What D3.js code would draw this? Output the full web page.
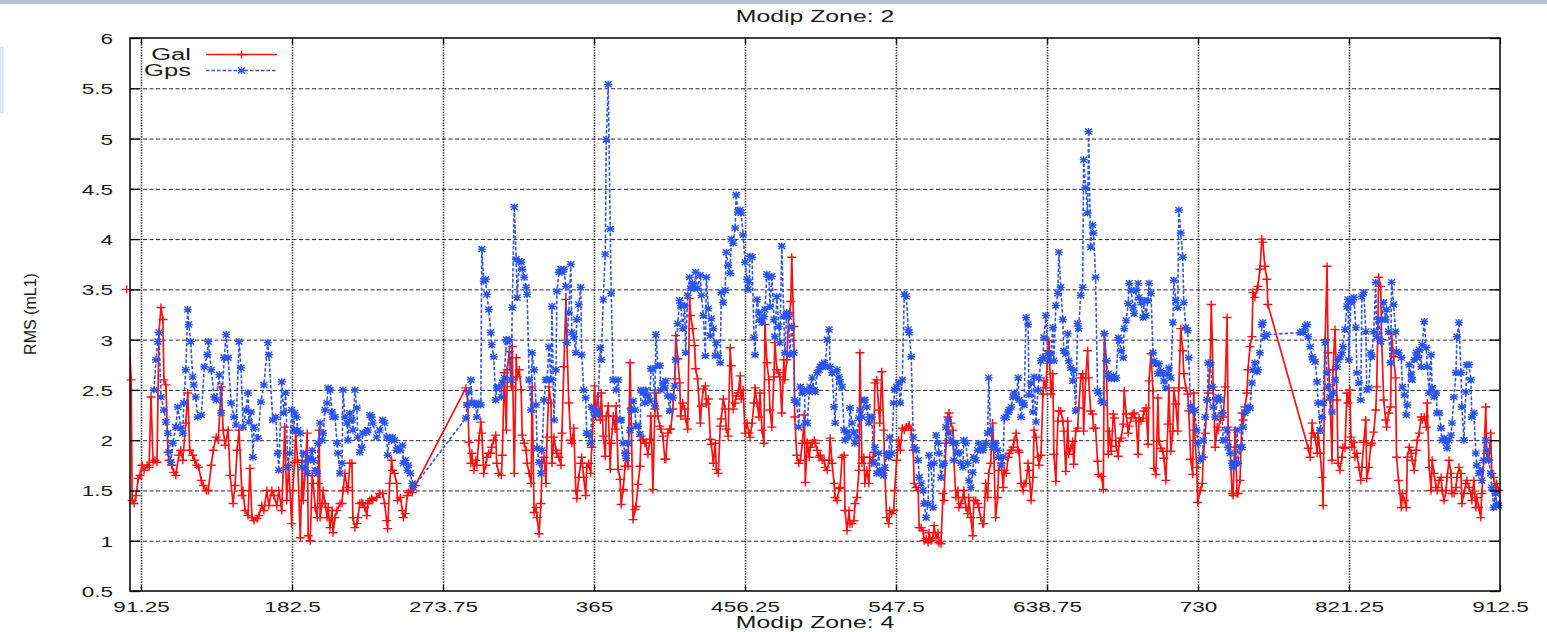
<!DOCTYPE html>
<html><head><meta charset="utf-8">
<script src="https://cdn.jsdelivr.net/npm/d3@7"></script>
<style>
body{margin:0;background:#fff;}
svg{display:block;font-family:"Liberation Sans",Arial,Helvetica,sans-serif;}
</style></head><body>
<svg id="chart" width="1547" height="632"></svg>
<script>
const chartTitle = "Modip Zone: 2";
const xAxisTitle = "Modip Zone: 4";
const yAxisTitle = "RMS (mL1)";
const seriesNames = ["Gal", "Gps"];
const xTickValues = [91.25,182.5,273.75,365,456.25,547.5,638.75,730,821.25,912.5];
const xTickLabels = ["91.25","182.5","273.75","365","456.25","547.5","638.75","730","821.25","912.5"];
const yTickValues = [0.5,1,1.5,2,2.5,3,3.5,4,4.5,5,5.5,6];
const yTickLabels = ["0.5","1","1.5","2","2.5","3","3.5","4","4.5","5","5.5","6"];

// [day, RMS]
const galPoints = [[82.6,3.5],[85.3,2.6],[85.9,1.4],[87.1,1.37],[88.3,1.45],[89.5,1.62],[90.7,1.65],[91.9,1.75],[93.1,1.7],[94.9,1.75],[96.1,1.73],[97.3,2.43],[98.5,1.78],[99.7,1.8],[100.9,1.78],[102.1,3.07],[103.3,3.32],[104.5,3.2],[105.1,2.6],[106.3,2.55],[107.5,1.88],[108.1,1.8],[109.9,1.75],[111.1,1.68],[112.3,1.65],[114.1,1.85],[115.3,1.9],[116.5,1.8],[118.3,2.17],[119.5,2.47],[120.7,1.9],[122.5,1.85],[123.7,1.8],[124.9,1.75],[126.1,1.73],[127.7,1.6],[128.9,1.55],[130.7,1.5],[131.9,1.5],[133.7,1.75],[134.9,1.9],[136.7,2.03],[137.9,2.0],[139.7,2.53],[140.9,2.1],[142.1,1.95],[143.9,2.1],[145.1,1.65],[146.9,1.37],[148.1,1.55],[149.3,1.9],[150.5,2.1],[152.3,1.45],[152.9,1.5],[154.1,1.3],[155.9,1.25],[157.1,1.72],[158.3,1.23],[159.5,1.2],[161.3,1.22],[162.5,1.25],[164.3,1.35],[165.5,1.3],[167.3,1.5],[168.5,1.35],[170.3,1.5],[171.5,1.45],[173.3,1.35],[174.5,1.5],
[176.3,1.3],[178.1,2.13],[179.3,1.4],[180.5,1.75],[182.3,1.17],[182.9,1.5],[184.1,1.78],[184.7,2.07],[185.9,1.8],[187.5,1.03],[188.7,1.78],[189.3,1.4],[190.5,1.7],[191.7,2.07],[192.3,1.05],[193.5,1.0],[194.7,1.65],[195.3,1.57],[196.5,1.33],[197.7,1.23],[198.3,1.57],[198.9,2.1],[199.5,1.23],[200.7,1.37],[201.3,1.5],[202.5,1.37],[203.7,1.23],[204.3,1.33],[205.5,1.13],[206.7,1.3],[207.3,1.08],[208.5,1.23],[209.7,1.3],[211.5,1.37],[212.7,1.37],[213.3,1.5],[214.5,1.67],[215.7,1.53],[216.3,1.5],[217.5,1.77],[218.7,1.77],[219.3,1.23],[220.5,1.13],[221.7,1.17],[222.3,1.23],[223.5,1.37],[224.7,1.38],[225.3,1.37],[226.5,1.33],[227.7,1.25],[228.3,1.37],[229.5,1.4],[230.7,1.42],[231.3,1.4],[233.7,1.43],[235.5,1.47],[237.3,1.47],[238.5,1.37],[239.7,1.2],[240.3,1.12],[241.5,1.57],[242.7,1.8],[243.3,1.7],[244.5,1.67],[245.7,1.57],[246.3,1.4],[248.0,1.43],[249.2,1.3],[249.8,1.23],[251.0,1.27],[252.2,1.45],[252.8,1.48],[254.0,1.5],[255.2,1.48],[257.0,1.55],
[287.6,2.52],[288.8,2.37],[289.4,1.98],[290.6,1.77],[291.2,1.87],[292.4,1.7],[293.6,1.8],[294.2,1.75],[295.4,2.0],[296.6,2.18],[297.2,2.07],[298.4,1.67],[299.6,1.75],[300.2,1.83],[301.4,1.87],[302.6,1.87],[303.2,1.93],[304.4,2.0],[305.6,2.05],[306.2,1.77],[307.4,1.67],[309.0,1.65],[309.6,1.85],[310.8,2.67],[312.0,2.1],[312.6,2.7],[313.8,2.88],[315.0,2.53],[315.6,2.93],[316.8,1.67],[318.0,2.82],[318.6,2.63],[319.8,2.7],[321.0,2.5],[321.6,2.05],[322.8,1.97],[324.0,1.9],[324.6,1.77],[325.8,1.67],[327.0,1.57],[327.6,2.53],[328.8,1.28],[330.0,1.33],[330.6,1.23],[331.8,1.07],[333.0,1.37],[333.6,1.77],[334.8,1.83],[336.0,1.57],[336.6,2.03],[337.8,2.53],[339.0,2.37],[339.6,1.77],[340.8,2.03],[342.0,1.9],[342.6,1.87],[343.8,1.83],[345.0,1.75],[345.6,2.07],[346.8,2.73],[348.0,3.4],[348.6,2.97],[349.8,2.37],[351.0,2.0],[351.6,1.97],[352.8,2.12],[354.0,1.5],[354.6,1.42],[355.8,1.63],[357.0,1.77],[357.6,1.83],[358.8,1.63],[360.0,1.45],[360.6,1.73],[361.8,1.77],[363.0,1.67],[363.6,1.93],
[364.8,2.31],[365.4,2.54],[366.0,2.24],[367.2,2.44],[368.8,2.2],[369.4,2.47],[370.6,2.04],[371.8,1.84],[372.4,2.24],[373.6,2.34],[374.8,1.71],[375.4,1.97],[376.6,2.24],[377.8,2.11],[378.4,2.34],[379.6,1.71],[380.8,1.61],[381.4,1.36],[382.6,1.51],[383.8,1.74],[384.4,1.87],[385.6,1.74],[386.8,2.77],[387.4,2.31],[388.6,1.21],[389.8,1.31],[390.4,1.34],[391.6,1.56],[392.8,1.74],[393.4,2.04],[394.6,2.01],[395.8,1.97],[396.4,1.97],[397.6,1.86],[398.8,2.01],[399.4,2.24],[400.6,1.51],[401.8,2.31],[402.4,2.47],[403.6,2.24],[404.8,2.14],[405.4,2.11],[406.6,2.04],[407.8,1.81],[408.4,1.81],[409.6,2.07],[410.8,2.11],[411.4,2.11],[412.6,2.31],[413.8,2.61],[414.4,3.04],[415.6,2.81],[416.8,2.57],[417.4,2.24],[418.6,2.37],[419.8,2.31],[420.4,2.21],[421.6,2.11],[422.8,3.41],[423.4,3.24],[424.6,3.11],[425.8,2.94],[426.4,2.71],[427.6,2.61],[429.3,2.17],[429.9,2.34],[431.1,2.51],[432.3,2.54],[432.9,2.36],[434.1,2.41],[435.3,2.01],[435.9,1.96],[437.1,1.77],[438.3,1.97],[438.9,1.71],[440.1,1.67],[441.3,2.14],[441.9,2.21],[443.1,2.41],[444.3,2.31],[444.9,2.11],[446.1,2.04],[447.3,2.92],[447.9,2.74],[449.1,2.31],[450.3,2.37],[450.9,2.44],[452.1,2.47],[453.3,2.64],[453.9,2.41],
[455.1,2.5],[456.3,2.07],[457.5,2.17],[458.7,2.07],[459.3,2.03],[460.5,2.17],[461.7,2.37],[462.3,2.52],[463.5,2.37],[464.7,2.23],[465.3,2.47],[466.5,2.1],[467.7,1.97],[468.3,3.15],[469.5,2.77],[470.7,2.6],[471.3,2.3],[472.5,2.13],[473.7,2.63],[474.3,2.97],[475.5,2.7],[476.7,2.67],[477.3,2.63],[478.5,2.27],[479.7,2.8],[480.3,2.6],[481.5,2.8],[482.7,3.25],[483.3,3.27],[483.9,3.38],[484.5,3.82],[485.7,3.13],[486.3,2.23],[487.5,1.85],[488.7,1.77],[489.7,1.8],[490.9,1.97],[492.1,2.25],[492.7,1.58],[493.9,1.98],[495.1,1.83],[495.7,1.93],[496.9,1.97],[498.1,2.0],[498.7,1.97],[499.9,1.9],[501.1,1.83],[501.7,1.85],[502.9,1.8],[504.1,1.8],[504.7,1.73],[505.9,1.7],[507.1,1.8],[507.7,2.02],[508.9,1.77],[510.1,1.57],[510.7,1.43],[511.9,1.4],[513.1,1.52],[513.7,1.53],[514.9,1.83],[516.1,1.85],[516.7,1.3],[517.9,1.1],[519.1,1.3],[519.7,1.17],[520.9,1.17],[522.1,1.2],[522.7,1.37],[523.9,1.43],[525.1,1.7],[525.7,2.87],[526.9,1.77],[528.1,1.83],[528.7,1.57],[529.9,1.7],[531.1,1.57],[531.7,1.83],[532.9,1.77],[534.1,1.88],[534.7,2.57],[535.9,2.6],[537.1,2.3],[537.7,2.17],[538.9,2.68],[540.1,2.1],[540.7,1.7],[541.9,1.23],[543.1,1.17],[543.7,1.3],[544.9,1.27],[546.1,1.3],[546.7,1.5],[547.9,1.8],[549.1,2.0],[550.1,1.9],
[551.3,2.12],[552.5,2.1],[553.7,2.13],[554.9,2.13],[555.5,2.15],[556.7,2.1],[557.9,1.9],[558.5,1.57],[559.7,1.53],[560.9,1.5],[561.5,1.13],[562.7,1.13],[563.9,1.1],[564.5,1.0],[565.7,1.02],[566.9,0.98],[567.5,1.08],[568.7,1.0],[569.9,1.03],[570.5,1.15],[571.7,1.03],[572.9,1.08],[573.5,0.98],[574.7,0.97],[575.9,1.47],[576.5,1.4],[577.7,1.97],[578.9,2.23],[579.5,2.27],[580.7,2.17],[581.9,2.1],[582.5,1.8],[583.7,1.43],[584.9,1.5],[585.5,1.33],[586.7,1.37],[587.9,1.43],[588.5,1.5],[589.7,1.33],[590.9,1.27],[591.5,1.43],[592.7,1.23],[593.9,1.05],[594.5,1.4],[595.7,1.4],[596.9,1.37],[597.5,1.33],[598.7,1.23],[599.9,1.17],[600.5,1.17],[601.7,1.57],[602.9,1.43],[603.5,1.67],[604.7,1.77],[605.9,2.17],[606.5,1.93],[607.7,1.23],[608.9,1.43],[609.5,1.7],[611.1,1.77],[612.3,1.53],[612.9,1.7],[614.1,1.67],[615.3,1.83],[615.9,1.87],[617.1,1.9],[618.3,1.93],[618.9,2.0],[620.1,2.07],[621.3,1.9],[621.9,1.88],[623.1,1.57],[624.3,1.5],[624.9,1.57],[626.1,1.57],[627.3,1.77],[627.9,1.7],[629.1,1.4],[630.3,1.63],[630.9,2.1],[632.1,2.03],[633.3,1.83],
[633.9,1.75],[635.1,1.85],[636.3,2.46],[636.9,2.59],[638.1,2.52],[639.3,2.89],[639.9,2.99],[641.1,2.46],[642.3,2.66],[642.9,1.86],[644.1,1.59],[645.3,2.19],[645.9,2.29],[647.1,2.29],[648.3,2.19],[648.9,2.09],[650.1,1.69],[651.3,2.19],[651.9,1.86],[653.1,1.92],[654.3,1.99],[654.9,1.76],[656.1,2.09],[657.3,2.12],[657.9,2.32],[659.1,2.62],[660.3,2.66],[660.9,2.09],[662.1,2.62],[663.3,2.89],[663.9,2.62],[665.1,2.29],[666.3,2.26],[666.9,2.12],[668.1,2.12],[669.3,1.79],[669.9,1.66],[671.6,1.64],[672.8,1.51],[673.4,3.06],[674.6,2.79],[675.8,1.86],[676.4,2.09],[677.6,1.89],[678.8,2.26],[679.4,2.22],[680.6,1.94],[681.8,1.84],[682.4,1.99],[683.6,2.02],[684.8,2.16],[685.4,2.49],[686.6,2.26],[687.8,2.07],[688.4,2.14],[689.6,2.22],[690.8,2.26],[691.4,2.27],[692.6,2.19],[693.8,1.86],[694.4,2.22],[695.6,2.19],[696.8,2.22],[697.4,2.29],[698.6,2.32],[699.8,1.96],[700.4,2.59],[701.6,2.86],[702.8,2.49],[703.4,1.72],[704.6,1.66],[705.8,2.42],[706.4,1.99],[707.6,1.92],[708.8,1.89],[709.4,1.82],[710.6,1.6],[711.8,2.16],[712.4,2.52],[713.6,1.89],[714.8,2.09],[715.4,2.49],[716.6,2.36],[717.8,2.09],[718.4,2.52],[719.6,3.11],[720.8,2.89],[721.4,2.66],[722.6,2.52],[723.8,2.46],[724.4,2.29],[725.6,1.81],[726.8,1.66],
[727.4,2.47],[728.0,2.1],[729.2,1.73],[729.8,1.38],[731.4,1.5],[732.6,1.57],[733.2,1.83],[734.4,2.07],[735.6,2.4],[736.2,2.47],[737.4,2.77],[738.0,3.35],[738.6,3.0],[739.2,2.53],[740.4,1.93],[741.6,2.13],[742.2,2.1],[743.4,2.2],[744.6,2.27],[745.2,2.23],[746.4,2.53],[747.6,3.22],[748.2,2.13],[749.4,1.93],[750.6,1.47],[751.2,1.45],[752.4,2.1],[753.6,1.47],[754.2,1.47],[755.4,1.6],[756.6,2.27],[757.2,2.2],[758.4,2.33],[759.6,2.47],[760.2,2.7],[761.4,2.93],[762.6,3.03],[763.2,3.47],[764.4,3.42],[765.6,3.5],[766.2,3.53],[767.4,3.7],[768.6,4.0],[769.2,3.97],[770.4,3.73],[771.6,3.6],[772.2,3.35],
[796.6,1.92],[797.8,1.83],[799.0,2.17],[799.6,2.07],[800.8,2.03],[802.0,1.87],[802.6,2.07],[803.8,1.87],[805.0,1.63],[805.6,1.35],[806.8,3.0],[808.0,3.73],[808.6,2.87],[809.8,2.4],[811.0,1.8],[811.6,2.7],[812.8,3.1],[814.0,2.4],[814.6,1.77],[815.8,1.7],[817.0,1.83],[817.6,1.93],[818.8,1.92],[820.0,2.47],[820.6,2.37],
[821.8,2.5],[822.4,2.03],[823.0,1.93],[824.2,1.98],[824.8,1.83],[826.0,1.87],[827.2,1.73],[828.4,1.6],[829.0,1.73],[830.2,1.98],[831.4,2.2],[832.0,1.62],[833.2,1.73],[834.4,1.95],[835.0,1.97],[836.2,2.08],[837.4,2.3],[838.0,2.53],[839.2,3.62],[840.4,3.53],[841.0,3.0],[842.2,2.4],[843.4,2.2],[844.0,2.13],[845.2,2.27],[846.4,2.33],[847.0,3.05],[848.2,2.83],[849.4,2.62],[850.0,1.83],[851.2,1.6],[852.9,1.33],[853.5,1.47],[854.7,1.4],[855.9,1.33],[856.5,1.83],[857.7,1.93],[858.9,1.87],[859.5,1.8],[860.7,1.7],[861.9,1.9],[862.5,2.0],[863.7,2.07],[864.9,2.23],[865.5,2.2],[866.7,2.23],[867.9,2.13],[868.5,2.37],[869.7,1.73],[870.9,1.5],[871.5,1.8],[872.7,1.67],[873.9,1.53],[874.5,1.5],[875.7,1.6],[876.9,1.63],[877.5,1.5],[878.7,1.4],[879.9,1.5],[880.5,1.63],[881.7,1.8],[882.9,1.67],[883.5,1.47],[884.7,1.47],[885.9,1.53],[886.5,1.63],[887.7,1.73],[888.9,1.67],[889.5,1.37],[890.7,1.47],[891.9,1.57],[892.5,1.6],[893.7,1.53],[894.9,1.47],[895.5,1.4],[896.7,1.6],[897.9,1.33],[898.5,1.43],[899.7,1.33],[900.9,1.23],[901.5,1.47],[902.7,1.8],[903.9,2.33],[904.5,1.87],[905.7,1.8],[906.9,2.07],[907.5,1.67],[908.7,1.63],[909.9,1.5],[910.5,1.57],[911.7,1.5]];

const gpsPoints = [[99.1,2.5],[100.3,2.8],[101.5,2.98],[102.1,3.07],[103.3,2.43],[105.1,2.3],[106.3,2.18],[107.5,2.07],[108.1,1.88],[109.3,1.78],[110.5,1.97],[112.3,2.13],[113.5,2.33],[115.3,2.12],[116.5,2.07],[117.1,2.37],[118.3,2.7],[119.5,3.3],[120.1,3.15],[121.3,2.98],[122.5,2.63],[123.1,2.55],[124.3,2.43],[125.5,2.23],[127.7,2.25],[129.5,2.73],[131.3,2.85],[131.9,2.98],[133.7,2.7],[135.5,2.43],[136.7,2.4],[138.5,2.65],[139.7,2.27],[141.5,2.82],[142.7,3.05],[143.9,2.82],[145.7,2.37],[147.5,2.23],[148.7,2.15],[150.5,2.98],[151.7,2.72],[152.9,2.13],[154.7,2.3],[155.9,2.47],[156.5,2.18],[157.7,2.28],[158.9,1.83],[159.5,2.13],[161.9,2.02],[163.7,2.38],[165.5,2.55],[167.9,2.97],[168.5,2.85],[170.9,2.2],[172.7,2.23],[173.9,1.87],[174.5,1.7],
[176.3,2.58],[177.5,2.27],[178.7,2.47],[179.9,1.73],[181.1,1.87],[182.3,2.3],[183.5,2.1],[184.1,2.27],[185.3,2.23],[185.9,2.1],[187.5,2.07],[188.7,1.73],[189.3,1.87],[190.5,1.73],[191.7,1.67],[192.3,1.8],[193.5,1.83],[194.7,1.9],[195.3,1.8],[196.5,1.7],[197.7,1.67],[198.3,1.97],[199.5,2.17],[200.7,2.0],[201.3,2.07],[202.5,2.3],[203.7,2.37],[204.3,2.52],[205.5,2.5],[206.7,2.28],[207.3,2.23],[208.5,2.23],[209.7,1.97],[210.3,1.87],[211.5,1.67],[212.7,1.77],[213.3,2.5],[214.5,2.23],[215.7,2.17],[216.3,2.0],[217.5,2.27],[218.7,2.2],[219.3,2.1],[220.5,2.5],[221.7,2.32],[222.3,2.03],[223.5,1.88],[224.7,1.93],[225.3,2.07],[227.7,2.08],[228.3,2.1],[229.5,2.25],[230.7,2.23],[231.3,2.17],[233.7,2.03],[235.5,2.1],[237.3,2.2],[238.5,2.17],[239.7,2.03],[240.3,1.85],[241.5,2.03],[242.7,2.0],[243.3,2.03],[244.5,2.0],[245.7,1.9],[246.3,1.92],[248.0,1.9],[249.2,1.95],[249.8,1.77],[251.0,1.8],[252.2,1.7],[252.8,1.75],[254.0,1.67],[255.2,1.57],[255.8,1.53],
[287.6,2.22],[288.2,2.35],[289.4,2.48],[290.6,2.6],[291.2,2.37],[292.4,2.37],[293.6,2.35],[294.2,2.23],[295.4,2.37],[296.6,2.35],[297.2,3.9],[298.4,3.58],[299.6,3.6],[300.2,3.45],[301.4,3.3],[302.6,3.07],[303.2,2.95],[304.4,2.83],[305.6,2.4],[306.2,2.52],[307.4,2.53],[309.0,2.43],[309.6,2.57],[310.8,2.62],[312.0,3.0],[312.6,2.98],[313.8,3.0],[315.0,2.6],[315.6,3.32],[316.8,4.32],[318.0,3.8],[318.6,3.42],[319.8,3.78],[321.0,3.77],[321.6,3.7],[322.8,3.62],[324.0,3.52],[324.6,3.45],[325.8,2.6],[327.0,2.3],[327.6,2.87],[328.8,2.7],[330.0,2.35],[330.6,1.92],[331.8,1.78],[333.0,1.67],[333.6,1.9],[334.8,2.4],[336.0,2.6],[336.6,2.6],[337.8,2.93],[339.0,2.6],[339.6,3.33],[340.8,2.2],[342.0,2.7],[342.6,3.48],[343.8,3.67],[345.0,3.7],[345.6,3.67],[346.8,3.7],[348.0,3.53],[348.6,2.97],[349.8,3.27],[351.0,3.75],[351.6,3.07],[352.8,3.03],[354.0,2.87],[354.6,3.2],[355.8,3.35],[357.0,3.52],[357.6,2.85],[358.8,2.5],[360.0,2.42],[360.6,2.07],[361.8,2.05],[363.0,1.97],[363.6,2.33],
[364.8,2.3],[366.0,2.25],[367.2,2.28],[368.8,2.92],[369.4,2.8],[370.6,3.4],[371.8,3.85],[372.4,4.99],[373.6,5.54],[374.8,4.1],[375.4,3.46],[376.6,2.6],[378.4,2.5],[379.6,2.6],[380.8,2.2],[381.4,2.2],[382.6,1.97],[383.8,1.87],[384.4,1.82],[385.6,1.97],[386.8,2.1],[387.4,2.3],[388.6,2.39],[389.8,2.3],[390.4,2.14],[391.6,2.14],[392.8,2.06],[393.4,2.5],[394.6,2.47],[395.8,2.37],[396.4,2.5],[397.6,2.44],[398.8,2.39],[399.4,2.71],[400.6,2.71],[401.8,2.34],[402.4,3.05],[403.6,2.74],[404.8,2.74],[405.4,2.5],[406.6,2.57],[407.8,2.52],[408.4,2.59],[409.6,2.44],[410.8,2.29],[411.4,2.44],[412.6,2.42],[413.8,2.54],[414.4,2.8],[415.6,3.16],[416.8,3.39],[417.4,3.34],[418.6,3.11],[419.8,3.34],[420.4,2.87],[421.6,3.44],[422.8,3.62],[423.4,3.51],[424.6,3.56],[425.8,3.51],[426.4,3.67],[427.6,3.51],[429.3,3.64],[429.9,3.44],[431.1,3.24],[432.3,2.84],[432.9,3.62],[434.1,3.31],[435.3,3.04],[435.9,3.21],[437.1,3.11],[438.3,2.84],[438.9,2.97],[440.1,2.84],[441.3,2.77],[441.9,3.47],[443.1,3.37],[444.3,3.49],[444.9,3.87],[446.1,3.74],[447.3,3.66],[447.9,4.0],[449.1,3.96],[450.3,4.11],[450.9,4.44],[452.1,4.27],[453.3,4.29],[453.9,4.26],[455.1,4.04],
[456.3,3.77],[457.5,3.6],[458.1,3.5],[458.7,3.57],[459.3,3.83],[460.5,3.82],[461.7,3.02],[462.3,2.85],[463.5,3.4],[464.7,3.27],[465.3,3.2],[466.5,3.17],[467.7,3.23],[468.3,3.3],[469.5,3.65],[470.7,3.62],[471.3,3.33],[472.5,3.63],[473.7,3.2],[474.3,3.03],[475.5,3.43],[476.7,3.13],[477.3,2.97],[478.5,3.93],[479.7,3.23],[480.3,2.87],[481.5,3.27],[482.7,3.23],[483.3,2.85],[484.5,3.13],[485.7,2.87],[486.3,2.4],[487.5,2.37],[488.7,2.13],[489.7,2.53],[490.9,2.47],[492.1,2.5],[492.7,2.17],[493.9,2.17],[495.1,2.48],[495.7,2.53],[496.9,2.62],[498.1,2.5],[498.7,2.48],[499.9,2.67],[501.1,2.7],[501.7,2.73],[502.9,2.75],[504.1,2.77],[504.7,2.73],[505.9,3.0],[507.1,3.1],[507.7,2.73],[508.9,2.67],[510.1,2.33],[510.7,2.17],[511.9,2.7],[513.1,2.63],[513.7,2.58],[514.9,2.53],[516.1,2.1],[516.7,2.0],[517.9,2.08],[519.1,2.03],[519.7,2.32],[520.9,2.17],[522.1,2.08],[522.7,1.97],[523.9,2.03],[525.1,2.22],[525.7,2.3],[526.9,2.23],[528.1,2.4],[528.7,2.4],[529.9,2.33],[531.1,2.17],[531.7,2.23],[532.9,2.23],[534.1,1.77],[534.7,1.93],[535.9,1.67],[537.1,1.87],[537.7,1.7],[538.9,1.67],[540.1,1.65],[540.7,1.73],[541.9,1.87],[543.1,1.83],[543.7,2.03],[544.9,1.87],[546.1,2.37],[546.7,2.5],[547.9,2.53],[549.1,2.57],[550.1,2.37],
[551.3,2.6],[552.5,3.45],[553.7,3.43],[554.9,3.1],[555.5,3.07],[556.7,2.83],[557.9,2.03],[558.5,1.93],[559.7,1.9],[560.9,1.8],[561.5,1.63],[562.7,1.57],[563.9,1.5],[564.5,1.37],[565.7,1.23],[566.9,1.37],[567.5,1.85],[568.7,1.75],[569.9,1.33],[570.5,1.77],[571.7,2.05],[572.9,1.97],[573.5,1.87],[574.7,1.63],[575.9,1.75],[576.5,1.77],[577.7,2.13],[578.9,2.2],[579.5,2.07],[580.7,2.0],[581.9,1.97],[582.5,1.8],[583.7,1.97],[584.9,1.87],[585.5,1.88],[586.7,1.77],[587.9,1.73],[588.5,2.0],[589.7,1.97],[590.9,1.77],[591.5,1.6],[592.7,1.53],[593.9,1.68],[594.5,1.83],[595.7,1.8],[596.9,1.9],[597.5,1.97],[598.7,1.9],[599.9,1.9],[600.5,1.93],[601.7,1.97],[602.9,2.07],[603.5,2.62],[604.7,2.1],[605.9,1.93],[606.5,1.97],[607.7,1.97],[608.9,1.9],[609.5,1.83],[611.1,1.75],[612.3,1.83],[612.9,2.22],[614.1,2.23],[615.3,2.28],[615.9,2.3],[617.1,2.33],[618.3,2.43],[618.9,2.47],[620.1,2.43],[621.3,2.62],[621.9,2.4],[623.1,2.23],[624.3,2.37],[624.9,2.35],[626.1,3.22],[627.3,3.15],[627.9,2.45],[629.1,2.57],[630.3,2.28],[630.9,2.63],[632.1,2.18],[633.3,2.5],
[633.9,2.62],[635.1,2.79],[636.3,2.82],[636.9,3.02],[638.1,3.24],[639.3,2.86],[639.9,2.79],[641.1,2.86],[642.3,3.12],[642.9,2.79],[644.1,3.34],[645.3,3.46],[645.9,3.87],[647.1,3.52],[648.3,3.2],[648.9,2.89],[650.1,2.86],[651.3,3.06],[651.9,2.79],[653.1,2.72],[654.3,2.59],[654.9,2.69],[656.1,2.29],[657.3,3.16],[657.9,3.11],[659.1,3.44],[660.3,3.52],[660.9,4.79],[662.1,4.51],[663.3,4.26],[663.9,5.07],[665.1,3.92],[666.3,4.14],[666.9,4.06],[668.1,3.62],[669.3,2.49],[669.9,2.47],[671.6,2.39],[672.8,2.37],[673.4,3.06],[674.6,2.79],[675.8,2.66],[676.4,2.62],[677.6,2.61],[678.8,2.64],[679.4,2.61],[680.6,2.62],[681.8,3.02],[682.4,2.99],[683.6,2.89],[684.8,2.82],[685.4,3.11],[686.6,3.19],[687.8,3.36],[688.4,3.56],[689.6,3.49],[690.8,3.32],[691.4,3.26],[692.6,3.49],[693.8,3.56],[694.4,3.42],[695.6,3.37],[696.8,3.22],[697.4,3.39],[698.6,3.24],[699.8,3.39],[700.4,3.56],[701.6,3.46],[702.8,2.87],[703.4,2.79],[704.6,2.76],[705.8,2.66],[706.4,2.76],[707.6,2.69],[708.8,2.66],[709.4,2.59],[710.6,2.52],[711.8,2.66],[712.4,2.72],[713.6,2.62],[714.8,3.17],[715.4,3.59],[716.6,3.39],[717.8,3.32],[718.4,4.29],[719.6,4.06],[720.8,3.82],[721.4,3.37],[722.6,3.12],[723.8,3.09],[724.4,2.82],[725.6,2.34],[726.8,2.29],
[728.0,2.3],[729.2,2.1],[729.8,1.97],[731.4,1.8],[732.6,1.83],[733.2,2.0],[734.4,2.23],[735.6,2.4],[736.2,2.77],[737.4,2.75],[738.6,2.53],[739.2,2.33],[740.4,2.23],[741.6,2.4],[742.2,2.43],[743.4,2.4],[744.6,2.27],[745.2,2.0],[746.4,2.0],[747.6,2.1],[748.2,1.93],[749.4,1.87],[750.6,1.77],[751.2,1.73],[752.4,1.77],[753.6,2.1],[754.2,1.77],[755.4,1.93],[756.6,1.93],[757.2,2.13],[758.4,2.27],[759.6,2.3],[760.2,2.33],[761.4,2.32],[762.6,2.57],[763.2,2.7],[764.4,2.77],[765.6,2.68],[766.2,2.7],[767.4,2.87],[768.6,3.15],[769.2,3.17],[770.4,3.03],[771.6,3.05],
[791.8,3.07],[793.0,3.08],[793.6,3.07],[794.8,3.13],[796.0,3.15],[796.6,3.03],[797.8,2.93],[799.0,2.83],[799.6,2.8],[800.8,2.78],[802.0,2.58],[802.6,2.37],[803.8,2.1],[805.0,2.23],[805.6,2.37],[806.8,2.97],[808.0,2.67],[808.6,2.53],[809.8,2.43],[811.0,2.28],[811.6,2.47],[812.8,2.6],[814.0,2.73],[814.6,2.8],[815.8,2.83],[817.0,2.87],[817.6,2.93],[818.8,3.1],[820.0,3.33],[820.6,3.4],
[821.2,2.8],[822.4,3.37],[823.0,3.38],[823.6,3.4],[824.2,3.42],[825.4,3.12],[826.0,2.67],[827.2,2.57],[828.4,2.4],[829.0,3.43],[830.2,3.47],[831.4,3.08],[832.0,2.5],[833.2,2.52],[834.4,2.87],[835.0,2.83],[836.2,3.08],[837.4,3.57],[838.0,3.03],[839.2,3.2],[840.4,2.98],[841.0,3.2],[842.2,3.37],[843.4,3.2],[844.0,3.3],[845.2,3.08],[846.4,2.77],[847.0,3.57],[848.2,3.35],[849.4,3.08],[850.0,2.88],[851.2,2.87],[852.9,2.82],[853.5,2.53],[854.7,2.45],[855.9,2.25],[856.5,2.35],[857.7,2.75],[858.9,2.65],[859.5,2.6],[860.7,2.8],[861.9,2.87],[862.5,2.82],[863.7,2.9],[864.9,2.73],[865.5,2.95],[866.7,3.18],[867.9,2.92],[868.5,2.73],[869.7,2.47],[870.9,2.85],[871.5,2.52],[872.7,2.43],[873.9,2.47],[874.5,2.27],[875.7,2.27],[876.9,2.12],[877.5,2.0],[878.7,2.02],[879.9,1.98],[880.5,1.92],[881.7,2.0],[882.9,2.05],[883.5,2.17],[884.7,2.43],[885.9,2.67],[886.5,3.03],[887.7,3.17],[888.9,2.67],[889.5,2.33],[890.7,2.0],[891.9,2.48],[892.5,2.75],[893.7,2.75],[894.9,2.6],[895.5,2.23],[896.7,2.27],[897.9,1.87],[898.5,1.75],[899.7,1.67],[900.9,1.7],[901.5,1.6],[902.7,1.8],[903.9,2.0],[904.5,1.9],[905.7,1.8],[906.9,1.67],[907.5,1.53],[908.7,1.33],[909.9,1.47],[910.5,1.37],[911.7,1.35]];

const W = 1547, H = 632;
const plot = {l: 130, r: 1500, t: 38, b: 591};
const svg = d3.select("#chart");

const x = d3.scaleLinear().domain([84.6, 912.5]).range([plot.l, plot.r]);
const y = d3.scaleLinear().domain([0.5, 6]).range([plot.b, plot.t]);

// page decoration (top bar and small left panel)
svg.append("rect").attr("x",0).attr("y",0).attr("width",W).attr("height",4).attr("fill","#b8c0ce");
svg.append("rect").attr("x",0).attr("y",47).attr("width",3).attr("height",66).attr("fill","#e8f0f3").attr("stroke","#d0dde3").attr("stroke-width",1);

svg.append("defs").append("clipPath").attr("id","plotclip")
  .append("rect").attr("x",plot.l).attr("y",plot.t).attr("width",plot.r-plot.l).attr("height",plot.b-plot.t);

// grid
const gridH = svg.append("g").attr("transform",`translate(${plot.l},0)`)
  .call(d3.axisLeft(y).tickValues(yTickValues.slice(1,-1)).tickSize(-(plot.r-plot.l)).tickFormat(""));
gridH.select(".domain").remove();
gridH.selectAll("line").attr("stroke","#000").attr("stroke-width",1).attr("stroke-dasharray","4,2.5").attr("opacity",0.85);

const gridV = svg.append("g").attr("transform",`translate(0,${plot.b})`)
  .call(d3.axisBottom(x).tickValues(xTickValues.slice(0,-1)).tickSize(-(plot.b-plot.t)).tickFormat(""));
gridV.select(".domain").remove();
gridV.selectAll("line").attr("stroke","#000").attr("stroke-width",1.6).attr("stroke-dasharray","1.3,1.4").attr("opacity",0.85);

// series
const lineGen = d3.line().x(d => x(d[0])).y(d => y(d[1]));
const galColor = "#ff1010", gpsColor = "#2c55ee";

function plusPath(px, py){ return `M${px-4.5},${py}H${px+4.5}M${px},${py-4}V${py+4}`; }
function starPath(px, py){ return `M${px-4},${py}H${px+4}M${px},${py-3.5}V${py+3.5}M${px-3.4},${py-3}L${px+3.4},${py+3}M${px-3.4},${py+3}L${px+3.4},${py-3}`; }

const gGal = svg.append("g");
gGal.append("path").datum(galPoints).attr("d", lineGen).attr("fill","none")
  .attr("stroke", galColor).attr("stroke-width",1.7).attr("stroke-linejoin","round").attr("clip-path","url(#plotclip)");
gGal.selectAll("path.mk").data(galPoints).join("path").attr("class","mk")
  .attr("d", d => plusPath(x(d[0]), y(d[1]))).attr("stroke", galColor).attr("stroke-width",1.4).attr("fill","none");

const gGps = svg.append("g");
gGps.append("path").datum(gpsPoints).attr("d", lineGen).attr("fill","none")
  .attr("stroke", gpsColor).attr("stroke-width",1.6).attr("stroke-dasharray","3.5,2").attr("clip-path","url(#plotclip)");
gGps.selectAll("path.mk").data(gpsPoints).join("path").attr("class","mk")
  .attr("d", d => starPath(x(d[0]), y(d[1]))).attr("stroke", gpsColor).attr("stroke-width",1.4).attr("fill","none");

// border
svg.append("rect").attr("x",plot.l).attr("y",plot.t).attr("width",plot.r-plot.l).attr("height",plot.b-plot.t)
  .attr("fill","none").attr("stroke","#000").attr("stroke-width",1.5);

// axes with inward ticks
const textColor = "#1a1a1a";
const axL = svg.append("g").attr("transform",`translate(${plot.l},0)`)
  .call(d3.axisLeft(y).tickValues(yTickValues).tickSize(-10).tickFormat((d,i) => yTickLabels[i]));
axL.select(".domain").remove();
axL.selectAll("line").attr("stroke","#000").attr("stroke-width",1.3);
axL.selectAll("text").attr("x",null).attr("dy",null).attr("y",null)
  .attr("text-anchor","end").attr("font-size",15).attr("fill",textColor)
  .attr("font-family","Liberation Sans, Arial, sans-serif")
  .attr("transform","translate(-17,5.5) scale(1.5,1)");

const axR = svg.append("g").attr("transform",`translate(${plot.r},0)`)
  .call(d3.axisRight(y).tickValues(yTickValues).tickSize(-10).tickFormat(""));
axR.select(".domain").remove();
axR.selectAll("line").attr("stroke","#000").attr("stroke-width",1.3);

const axB = svg.append("g").attr("transform",`translate(0,${plot.b})`)
  .call(d3.axisBottom(x).tickValues(xTickValues).tickSize(-6).tickFormat((d,i) => xTickLabels[i]));
axB.select(".domain").remove();
axB.selectAll("line").attr("stroke","#000").attr("stroke-width",1.3);
axB.selectAll("text").attr("y",null).attr("dy",null)
  .attr("text-anchor","middle").attr("font-size",15).attr("fill",textColor)
  .attr("font-family","Liberation Sans, Arial, sans-serif")
  .attr("transform","translate(0,20.5) scale(1.5,1)");

const axT = svg.append("g").attr("transform",`translate(0,${plot.t})`)
  .call(d3.axisTop(x).tickValues(xTickValues).tickSize(-6).tickFormat(""));
axT.select(".domain").remove();
axT.selectAll("line").attr("stroke","#000").attr("stroke-width",1.3);

// titles
function stretchedText(txt, tx, ty, size, sx, anchor){
  return svg.append("text").text(txt).attr("text-anchor",anchor||"middle")
    .attr("font-size",size).attr("fill",textColor)
    .attr("transform",`translate(${tx},${ty}) scale(${sx},1)`);
}
stretchedText(chartTitle, (plot.l+plot.r)/2, 21.5, 16, 1.55);
stretchedText(xAxisTitle, (plot.l+plot.r)/2, 628, 16, 1.55);
svg.append("text").text(yAxisTitle).attr("text-anchor","middle").attr("font-size",16).attr("fill",textColor)
  .attr("transform","translate(36,314) rotate(-90)");

// legend
const legendRows = [
  {name: seriesNames[0], color: galColor, dash: null, marker: plusPath, ly: 54.5, ty: 60},
  {name: seriesNames[1], color: gpsColor, dash: "3.5,2", marker: starPath, ly: 70.5, ty: 76}
];
legendRows.forEach(r => {
  stretchedText(r.name, 191, r.ty, 16, 1.6, "end");
  svg.append("line").attr("x1",206).attr("x2",277).attr("y1",r.ly).attr("y2",r.ly)
    .attr("stroke",r.color).attr("stroke-width",1.5).attr("stroke-dasharray",r.dash);
  svg.append("path").attr("d", r.marker(241.5, r.ly)).attr("stroke",r.color).attr("stroke-width",1.3).attr("fill","none");
});
</script>
</body></html>
